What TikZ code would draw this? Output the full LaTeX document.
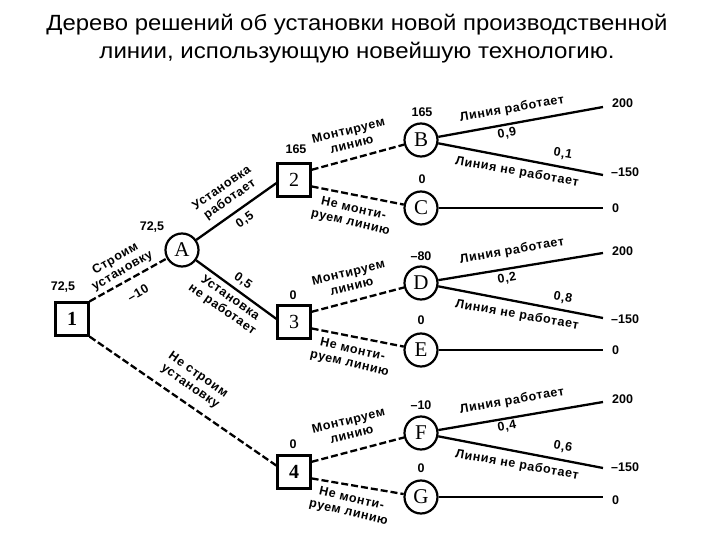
\documentclass[tikz,border=0pt]{standalone}
\usepackage{fontspec}
\setmainfont{Liberation Sans}
\newfontfamily\nodefont{Liberation Serif}
\newfontfamily\lblfont[LetterSpace=5]{Liberation Sans}
\begin{document}
\begin{tikzpicture}[x=1pt,y=-1pt,
  decbox/.style={draw,rectangle,line width=2.3pt,minimum size=33pt,inner sep=0pt,font=\nodefont\fontsize{20}{20}\selectfont},
  chancec/.style={draw,circle,line width=2.2pt,minimum size=33pt,inner sep=0pt,font=\nodefont\fontsize{21}{21}\selectfont},
  solidline/.style={line width=2.3pt},
  dashline/.style={line width=2.3pt,dash pattern=on 7pt off 3pt},
  lbl/.style={font=\lblfont\bfseries\fontsize{12.5}{14}\selectfont,align=center,inner sep=0pt},
  val/.style={font=\bfseries\fontsize{12.5}{12.5}\selectfont,inner sep=0pt},
  endval/.style={val,anchor=west},
  ttl/.style={font=\fontsize{22}{26}\selectfont,inner sep=0pt,anchor=base}
]
\useasboundingbox (0,0) rectangle (720,540);
\fill[white] (0,0) rectangle (720,540);

% title
\node[ttl] (t1) at (357,31) {\resizebox{621pt}{\height}{Дерево решений об установки новой производственной}};
\node[ttl] (t2) at (357,59) {\resizebox{515pt}{\height}{линии, использующую новейшую технологию.}};

% decision and chance nodes
\node[decbox] (n1) at (72,319) {\bfseries 1};
\node[chancec] (A) at (182,250) {A};
\node[decbox] (n2) at (294,180) {2};
\node[decbox] (n3) at (294,322) {3};
\node[decbox] (n4) at (294,472) {\bfseries 4};
\node[chancec] (B) at (421,140) {B};
\node[chancec] (C) at (421,208) {C};
\node[chancec] (D) at (421,283) {D};
\node[chancec] (E) at (421,350) {E};
\node[chancec] (F) at (421,433) {F};
\node[chancec] (G) at (421,497) {G};

% branch end points
\coordinate (bU) at (603,107);
\coordinate (bL) at (603,175);
\coordinate (cE) at (603,208);
\coordinate (dU) at (603,253);
\coordinate (dL) at (603,318);
\coordinate (eE) at (603,350);
\coordinate (fU) at (603,402);
\coordinate (fL) at (603,468);
\coordinate (gE) at (603,497);

% connectors
\draw[dashline] (n1.north east) -- (A);
\draw[dashline] (n1.south east) -- (n4.160);
\draw[solidline] (A) -- (n2.190);
\draw[solidline] (A) -- (n3.170);
\draw[dashline] (n2.30) -- (B);
\draw[dashline] (n2.-20) -- (C);
\draw[dashline] (n3.30) -- (D);
\draw[dashline] (n3.-20) -- (E);
\draw[dashline] (n4.30) -- (F);
\draw[dashline] (n4.-20) -- (G);
\draw[solidline] (B) -- (bU);
\draw[solidline] (B) -- (bL);
\draw[solidline] (C) -- (cE);
\draw[solidline] (D) -- (dU);
\draw[solidline] (D) -- (dL);
\draw[solidline] (E) -- (eE);
\draw[solidline] (F) -- (fU);
\draw[solidline] (F) -- (fL);
\draw[solidline] (G) -- (gE);

% end values
\node[endval] (vbU) at (612,103) {200};
\node[endval] (vbL) at (611,172) {–150};
\node[endval] (vcE) at (612,208) {0};
\node[endval] (vdU) at (612,251) {200};
\node[endval] (vdL) at (611,319) {–150};
\node[endval] (veE) at (612,350) {0};
\node[endval] (vfU) at (612,399) {200};
\node[endval] (vfL) at (611,467) {–150};
\node[endval] (vgE) at (612,500) {0};

% node values
\node[val] (w1) at (63,287) {72,5};
\node[val] (wA) at (152,227) {72,5};
\node[val] (w2) at (296,149) {165};
\node[val] (wB) at (422,112) {165};
\node[val] (wC) at (422,179) {0};
\node[val] (w3) at (293,295) {0};
\node[val] (wD) at (421,256) {–80};
\node[val] (wE) at (421,320) {0};
\node[val] (w4) at (293,444) {0};
\node[val] (wF) at (421,405) {–10};
\node[val] (wG) at (421,468) {0};

% edge labels
\node[lbl,rotate=30] (l1A) at (119,265) {Строим\\установку};
\node[lbl,rotate=30] (c1A) at (138,293) {–10};
\node[lbl,rotate=35] (lA2) at (226,194) {Установка\\работает};
\node[lbl,rotate=35] (pA2) at (245,220) {0,5};
\node[lbl,rotate=-35] (lA3) at (226,304) {Установка\\не работает};
\node[lbl,rotate=-35] (pA3) at (243,281) {0,5};
\node[lbl,rotate=-35] (l14) at (194,381) {Не строим\\установку};

\node[lbl,rotate=14] (l2B) at (350,137) {Монтируем\\линию};
\node[lbl,rotate=-13] (l2C) at (352,216) {Не монти-\\руем линию};
\node[lbl,rotate=14] (l3D) at (350,279) {Монтируем\\линию};
\node[lbl,rotate=-13] (l3E) at (351,357) {Не монти-\\руем линию};
\node[lbl,rotate=14] (l4F) at (350,427) {Монтируем\\линию};
\node[lbl,rotate=-13] (l4G) at (350,506) {Не монти-\\руем линию};

\node[lbl,rotate=10] (lBU) at (512,109) {Линия работает};
\node[lbl,rotate=10] (pBU) at (507,134) {0,9};
\node[lbl,rotate=-10] (pBL) at (563,154) {0,1};
\node[lbl,rotate=-10] (lBL) at (517,172) {Линия не работает};

\node[lbl,rotate=10] (lDU) at (512,251) {Линия работает};
\node[lbl,rotate=10] (pDU) at (507,279) {0,2};
\node[lbl,rotate=-10] (pDL) at (563,298) {0,8};
\node[lbl,rotate=-10] (lDL) at (517,315) {Линия не работает};

\node[lbl,rotate=10] (lFU) at (512,401) {Линия работает};
\node[lbl,rotate=10] (pFU) at (507,427) {0,4};
\node[lbl,rotate=-10] (pFL) at (563,447) {0,6};
\node[lbl,rotate=-10] (lFL) at (517,465) {Линия не работает};
\end{tikzpicture}
\end{document}
